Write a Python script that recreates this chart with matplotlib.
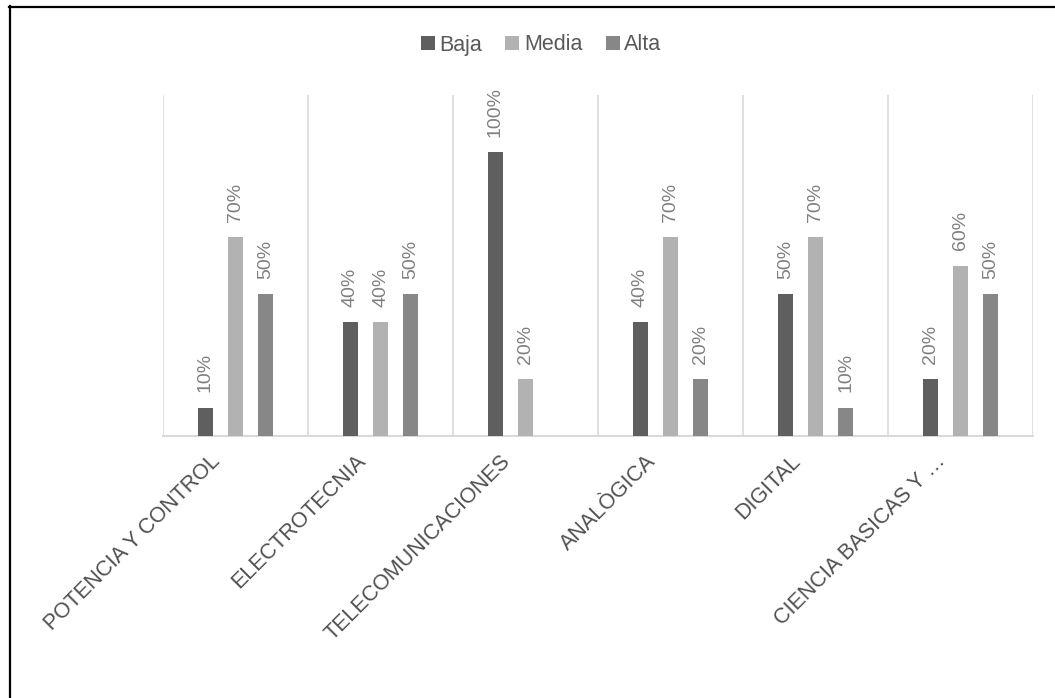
import matplotlib.pyplot as plt
import numpy as np

plt.rcParams['font.family'] = ['Liberation Sans', 'DejaVu Sans']

categories = ['POTENCIA Y CONTROL', 'ELECTROTECNIA', 'TELECOMUNICACIONES',
              'ANALÒGICA', 'DIGITAL', 'CIENCIA BASICAS Y …']
series = ['Baja', 'Media', 'Alta']
baja = [0.10, 0.40, 1.00, 0.40, 0.50, 0.20]
media = [0.70, 0.40, 0.20, 0.70, 0.70, 0.60]
alta = [0.50, 0.50, None, 0.20, 0.10, 0.50]
colors = ['#5f5f5f', '#b2b2b2', '#878787']

fig = plt.figure(figsize=(10.55, 6.98), dpi=100)
ax = fig.add_axes([163 / 1055, 1 - 436 / 698, 870 / 1055, 341 / 698])

x = np.arange(len(categories))
width = 0.11
offset = 0.207

for i, (name, vals, col) in enumerate(zip(series, [baja, media, alta], colors)):
    pos = [xx + (i - 1) * offset for xx, v in zip(x, vals) if v is not None]
    hv = [v for v in vals if v is not None]
    ax.bar(pos, hv, width=width, color=col, label=name, zorder=3)
    for p, v in zip(pos, hv):
        ax.annotate(f'{int(round(v * 100))}%', (p, v), xytext=(0, 11),
                    textcoords='offset points', rotation=90, ha='center',
                    va='bottom', fontsize=14, color='#808080')

ax.set_xlim(-0.5, len(categories) - 0.5)
ax.set_ylim(0, 1.2)
for b in np.arange(-0.5, len(categories), 1.0):
    ax.axvline(b, color='#d9d9d9', lw=1.2, zorder=1)

for s in ['top', 'right', 'left']:
    ax.spines[s].set_visible(False)
ax.spines['bottom'].set_color('#d9d9d9')
ax.spines['bottom'].set_linewidth(1.5)
ax.set_yticks([])
ax.set_xticks(x + 0.0)
ax.set_xticklabels([])
ax.tick_params(axis='x', length=0)

for xx, lab in zip(x, categories):
    ax.annotate(lab, (xx, 0), xytext=(-13, -16), textcoords='offset points',
                rotation=45, rotation_mode='anchor', ha='right', va='center',
                fontsize=15.5, color='#505050', annotation_clip=False)

leg = fig.legend(loc='center', bbox_to_anchor=(541 / 1055, 1 - 45 / 698),
                 ncol=3, frameon=False, fontsize=15.5, handlelength=0.65,
                 handleheight=0.65, handletextpad=0.2, columnspacing=1.1)
for t in leg.get_texts():
    t.set_color('#595959')

# outer frame (top and left edges visible)
fig.add_artist(plt.Line2D([9 / 1055, 1.0], [1 - 6.5 / 698, 1 - 6.5 / 698],
                          transform=fig.transFigure, color='black', lw=1.6))
fig.add_artist(plt.Line2D([9.5 / 1055, 9.5 / 1055], [0, 1 - 6 / 698],
                          transform=fig.transFigure, color='black', lw=1.6))

fig.savefig('out.png', dpi=100)
